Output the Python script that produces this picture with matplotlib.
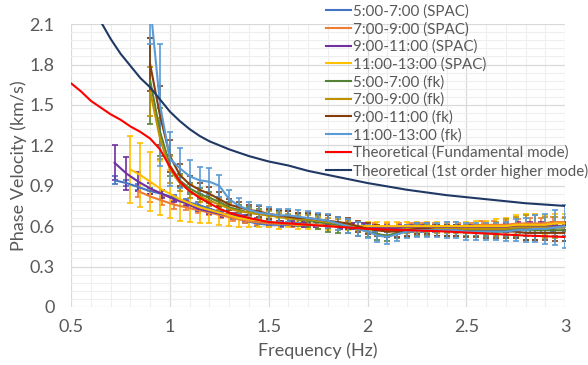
import matplotlib
matplotlib.use('Agg')
import matplotlib.pyplot as plt
import numpy as np
from matplotlib.ticker import MultipleLocator
from matplotlib.lines import Line2D

plt.rcParams['font.family'] = ['Lato', 'DejaVu Sans']

# SPAC curves (frequency grids are the sampling steps of each survey)
f_spac_a = np.arange(0.72, 3.001, 0.06)   # 5-7 and 9-11 SPAC
f_spac_b = np.arange(0.80, 3.001, 0.05)   # 11-13 SPAC
f_spac_c = np.arange(0.84, 3.001, 0.06)   # 7-9 SPAC
f_fk = np.arange(0.90, 3.001, 0.05)       # all fk curves

spac_5_7 = [0.94, 0.92, 0.89, 0.86, 0.84, 0.81, 0.78, 0.76, 0.73, 0.70,
            0.67, 0.64, 0.62, 0.61, 0.61, 0.61, 0.61, 0.61, 0.60, 0.60,
            0.60, 0.59, 0.58, 0.58, 0.58, 0.58, 0.58, 0.58, 0.58, 0.58,
            0.58, 0.58, 0.58, 0.58, 0.58, 0.58, 0.58, 0.59, 0.59]
spac_5_7_err = [0.03, 0.02, 0.02, 0.02, 0.02, 0.02, 0.02, 0.02, 0.02, 0.02,
                0.02, 0.02, 0.02, 0.02, 0.02, 0.02, 0.02, 0.02, 0.02, 0.02,
                0.02, 0.02, 0.02, 0.02, 0.02, 0.02, 0.02, 0.02, 0.02, 0.02,
                0.02, 0.02, 0.02, 0.02, 0.03, 0.03, 0.03, 0.03, 0.03]

spac_9_11 = [1.07, 0.99, 0.93, 0.88, 0.84, 0.80, 0.77, 0.73, 0.71, 0.69,
             0.68, 0.66, 0.64, 0.63, 0.62, 0.62, 0.61, 0.61, 0.61, 0.60,
             0.60, 0.60, 0.59, 0.59, 0.59, 0.59, 0.59, 0.59, 0.59, 0.59,
             0.59, 0.59, 0.59, 0.59, 0.60, 0.60, 0.60, 0.60, 0.60]
spac_9_11_err = [0.13, 0.12, 0.07, 0.04, 0.03, 0.02, 0.02, 0.02, 0.02, 0.02,
                 0.02, 0.02, 0.02, 0.02, 0.02, 0.02, 0.02, 0.02, 0.02, 0.02,
                 0.02, 0.02, 0.02, 0.02, 0.02, 0.02, 0.02, 0.02, 0.02, 0.02,
                 0.02, 0.02, 0.02, 0.03, 0.03, 0.03, 0.03, 0.03, 0.03]

spac_11_13 = [1.02, 0.98, 0.93, 0.88, 0.84, 0.80, 0.77, 0.74, 0.72, 0.70,
              0.68, 0.66, 0.65, 0.64, 0.63, 0.62, 0.62, 0.61, 0.61, 0.61,
              0.60, 0.60, 0.60, 0.60, 0.60, 0.60, 0.60, 0.60, 0.60, 0.60,
              0.60, 0.60, 0.60, 0.60, 0.60, 0.60, 0.60, 0.60, 0.60, 0.61,
              0.61, 0.61, 0.61, 0.62, 0.62]
spac_11_13_err = [0.25, 0.24, 0.22, 0.20, 0.18, 0.16, 0.14, 0.12, 0.10, 0.09,
                  0.08, 0.07, 0.06, 0.05, 0.04, 0.04, 0.03, 0.03, 0.03, 0.03,
                  0.03, 0.03, 0.03, 0.03, 0.03, 0.03, 0.03, 0.03, 0.03, 0.03,
                  0.03, 0.03, 0.03, 0.03, 0.03, 0.04, 0.04, 0.05, 0.06, 0.07,
                  0.08, 0.08, 0.07, 0.07, 0.07]

spac_7_9 = [0.86, 0.82, 0.79, 0.76, 0.74, 0.72, 0.70, 0.68, 0.66, 0.64,
            0.63, 0.62, 0.62, 0.61, 0.61, 0.61, 0.61, 0.60, 0.60, 0.60,
            0.60, 0.60, 0.60, 0.60, 0.60, 0.60, 0.60, 0.60, 0.60, 0.61,
            0.61, 0.61, 0.62, 0.62, 0.62, 0.63, 0.63]
spac_7_9_err = [0.04, 0.04, 0.03, 0.03, 0.02, 0.02, 0.02, 0.02, 0.02, 0.02,
                0.02, 0.02, 0.02, 0.02, 0.02, 0.02, 0.02, 0.02, 0.02, 0.02,
                0.02, 0.02, 0.02, 0.02, 0.02, 0.02, 0.02, 0.02, 0.02, 0.03,
                0.03, 0.03, 0.03, 0.04, 0.04, 0.04, 0.04]

# fk curves
fk_5_7 = [1.68, 1.30, 1.05, 0.94, 0.88, 0.84, 0.81, 0.78, 0.74, 0.72,
          0.70, 0.69, 0.68, 0.67, 0.66, 0.65, 0.64, 0.63, 0.62, 0.61,
          0.60, 0.58, 0.56, 0.54, 0.53, 0.55, 0.56, 0.57, 0.57, 0.57,
          0.57, 0.57, 0.57, 0.57, 0.57, 0.57, 0.57, 0.57, 0.57, 0.57,
          0.57, 0.57, 0.57]
fk_5_7_err = [0.32, 0.18, 0.08, 0.05, 0.04, 0.04, 0.04, 0.04, 0.04, 0.04,
              0.04, 0.04, 0.04, 0.04, 0.05, 0.05, 0.05, 0.05, 0.06, 0.06,
              0.05, 0.05, 0.04, 0.04, 0.04, 0.04, 0.04, 0.04, 0.04, 0.04,
              0.04, 0.04, 0.04, 0.04, 0.04, 0.04, 0.04, 0.04, 0.04, 0.04,
              0.04, 0.04, 0.04]

fk_7_9 = [1.60, 1.25, 1.02, 0.92, 0.86, 0.82, 0.79, 0.76, 0.73, 0.71,
          0.70, 0.69, 0.68, 0.67, 0.66, 0.65, 0.65, 0.64, 0.63, 0.62,
          0.61, 0.60, 0.58, 0.57, 0.56, 0.57, 0.58, 0.58, 0.58, 0.58,
          0.58, 0.58, 0.58, 0.58, 0.58, 0.58, 0.58, 0.59, 0.59, 0.59,
          0.59, 0.59, 0.59]
fk_7_9_err = [0.18, 0.15, 0.10, 0.06, 0.05, 0.04, 0.04, 0.04, 0.04, 0.03,
              0.03, 0.03, 0.03, 0.03, 0.03, 0.03, 0.03, 0.03, 0.03, 0.03,
              0.03, 0.03, 0.03, 0.03, 0.03, 0.03, 0.03, 0.03, 0.03, 0.03,
              0.03, 0.03, 0.03, 0.03, 0.04, 0.05, 0.07, 0.08, 0.09, 0.09,
              0.08, 0.08, 0.07]

fk_9_11 = [1.80, 1.42, 1.12, 0.98, 0.91, 0.87, 0.84, 0.80, 0.76, 0.74,
           0.72, 0.71, 0.69, 0.68, 0.67, 0.66, 0.66, 0.65, 0.64, 0.63,
           0.62, 0.60, 0.58, 0.57, 0.56, 0.56, 0.57, 0.58, 0.58, 0.57,
           0.57, 0.57, 0.56, 0.56, 0.56, 0.56, 0.56, 0.56, 0.55, 0.55,
           0.55, 0.55, 0.55]
fk_9_11_err = [0.20, 0.22, 0.12, 0.08, 0.06, 0.05, 0.05, 0.05, 0.04, 0.04,
               0.04, 0.04, 0.04, 0.04, 0.04, 0.04, 0.04, 0.04, 0.04, 0.04,
               0.04, 0.04, 0.04, 0.04, 0.04, 0.04, 0.04, 0.04, 0.04, 0.04,
               0.04, 0.04, 0.04, 0.04, 0.05, 0.05, 0.05, 0.05, 0.05, 0.05,
               0.05, 0.06, 0.06]

fk_11_13 = [2.25, 1.50, 1.10, 1.03, 0.97, 0.94, 0.93, 0.90, 0.80, 0.75,
            0.72, 0.70, 0.69, 0.68, 0.68, 0.67, 0.66, 0.65, 0.64, 0.62,
            0.60, 0.58, 0.56, 0.53, 0.52, 0.54, 0.56, 0.57, 0.57, 0.57,
            0.57, 0.57, 0.56, 0.56, 0.56, 0.56, 0.56, 0.57, 0.57, 0.58,
            0.58, 0.59, 0.60]
fk_11_13_err = [0.30, 0.45, 0.20, 0.15, 0.12, 0.10, 0.10, 0.08, 0.07, 0.06,
                0.06, 0.06, 0.05, 0.05, 0.05, 0.05, 0.05, 0.05, 0.05, 0.05,
                0.05, 0.05, 0.05, 0.05, 0.05, 0.05, 0.05, 0.05, 0.05, 0.05,
                0.06, 0.06, 0.06, 0.06, 0.06, 0.06, 0.07, 0.08, 0.09, 0.10,
                0.11, 0.13, 0.16]

# theoretical dispersion curves
f_fund = [0.5, 0.55, 0.6, 0.65, 0.7, 0.75, 0.8, 0.85, 0.9, 0.95, 1.0, 1.05,
          1.1, 1.15, 1.2, 1.25, 1.3, 1.4, 1.5, 1.6, 1.8, 2.0, 2.2, 2.4,
          2.6, 2.8, 3.0]
v_fund = [1.66, 1.60, 1.53, 1.48, 1.43, 1.39, 1.34, 1.30, 1.25, 1.17, 1.04,
          0.93, 0.86, 0.81, 0.77, 0.73, 0.70, 0.66, 0.63, 0.62, 0.60, 0.58,
          0.57, 0.56, 0.545, 0.53, 0.52]

f_high = [0.657, 0.7, 0.75, 0.8, 0.85, 0.9, 0.95, 1.0, 1.05, 1.1, 1.15,
          1.2, 1.3, 1.4, 1.5, 1.6, 1.7, 1.8, 1.9, 2.0, 2.2, 2.4, 2.6,
          2.8, 3.0]
v_high = [2.10, 1.99, 1.88, 1.79, 1.70, 1.63, 1.54, 1.45, 1.38, 1.32, 1.27,
          1.23, 1.17, 1.12, 1.08, 1.05, 1.01, 0.98, 0.95, 0.92, 0.87, 0.83,
          0.80, 0.77, 0.75]

series = [
    ("5:00-7:00 (SPAC)", f_spac_a, spac_5_7, spac_5_7_err, '#4472c4'),
    ("7:00-9:00 (SPAC)", f_spac_c, spac_7_9, spac_7_9_err, '#ed7d31'),
    ("9:00-11:00 (SPAC)", f_spac_a, spac_9_11, spac_9_11_err, '#7030a0'),
    ("11:00-13:00 (SPAC)", f_spac_b, spac_11_13, spac_11_13_err, '#ffc000'),
    ("5:00-7:00 (fk)", f_fk, fk_5_7, fk_5_7_err, '#548235'),
    ("7:00-9:00 (fk)", f_fk, fk_7_9, fk_7_9_err, '#bf9000'),
    ("9:00-11:00 (fk)", f_fk, fk_9_11, fk_9_11_err, '#843c0c'),
    ("11:00-13:00 (fk)", f_fk, fk_11_13, fk_11_13_err, '#5b9bd5'),
]

fig, ax = plt.subplots(figsize=(5.88, 3.65), dpi=100)
fig.subplots_adjust(left=0.121, right=0.961, bottom=0.159, top=0.934)

handles = []
labels = []
for name, f, v, e, c in series:
    ax.errorbar(f, v, yerr=e, color=c, lw=1.5, elinewidth=1.2,
                capsize=2.5, capthick=1.2, zorder=3)
    handles.append(Line2D([], [], color=c, lw=1.5))
    labels.append(name)

ax.plot(f_fund, v_fund, color='#ff0000', lw=1.5, zorder=4)
handles.append(Line2D([], [], color='#ff0000', lw=1.5))
labels.append("Theoretical (Fundamental mode)")
ax.plot(f_high, v_high, color='#203864', lw=1.5, zorder=4)
handles.append(Line2D([], [], color='#203864', lw=1.5))
labels.append("Theoretical (1st order higher mode)")

ax.set_xlim(0.5, 3.0)
ax.set_ylim(0, 2.1)
ax.xaxis.set_minor_locator(MultipleLocator(0.1))
ax.yaxis.set_minor_locator(MultipleLocator(0.06))
ax.set_xticks([0.5, 1, 1.5, 2, 2.5, 3])
ax.set_xticklabels(["0.5", "1", "1.5", "2", "2.5", "3"])
ax.set_yticks([0, 0.3, 0.6, 0.9, 1.2, 1.5, 1.8, 2.1])
ax.set_yticklabels(["0", "0.3", "0.6", "0.9", "1.2", "1.5", "1.8", "2.1"])
ax.grid(which='major', color='#d9d9d9', lw=0.9, zorder=0)
ax.grid(which='minor', color='#eeeeee', lw=0.8, zorder=0)
ax.set_axisbelow(True)
for s in ax.spines.values():
    s.set_visible(False)
ax.tick_params(which='both', length=0, labelsize=13, colors='#595959')
ax.tick_params(axis='y', pad=12)
ax.tick_params(axis='x', pad=9)

ax.set_xlabel("Frequency (Hz)", fontsize=13, color='#595959', labelpad=5)
ax.set_ylabel("Phase Velocity (km/s)", fontsize=13, color='#595959', labelpad=2)

leg = ax.legend(handles, labels, loc='upper left', bbox_to_anchor=(0.555, 0.988),
                bbox_transform=fig.transFigure, frameon=False, fontsize=10.9,
                handlelength=1.65, handletextpad=0.08, labelspacing=0.22,
                borderaxespad=0, borderpad=0)
for t in leg.get_texts():
    t.set_color('#595959')

fig.savefig("out.png", dpi=100)
